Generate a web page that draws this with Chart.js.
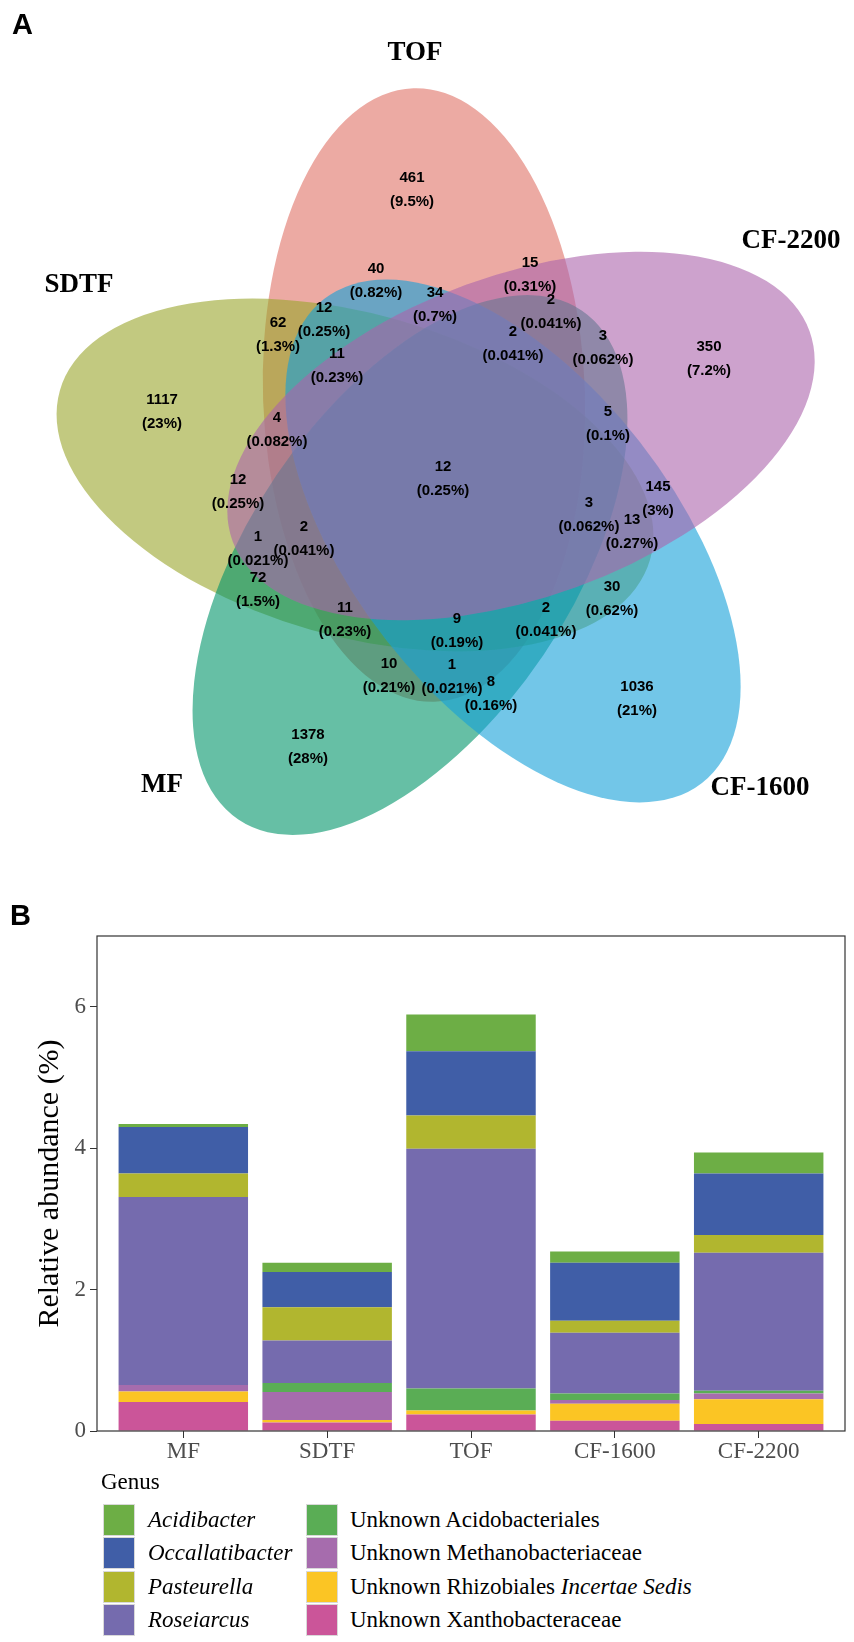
<!DOCTYPE html>
<html>
<head>
<meta charset="utf-8">
<script src="https://cdn.jsdelivr.net/npm/chart.js@4.4.1/dist/chart.umd.min.js"></script>
<style>
  body { margin: 0; background: #fff; width: 854px; height: 1642px; position: relative; overflow: hidden; }
  .tag { position: absolute; font: bold 29px "Liberation Sans", Arial, sans-serif; color: #000; }
  #vennChart { position: absolute; left: 0; top: 0; }
  #barChart { position: absolute; left: 0; top: 880px; }
  .leg { position: absolute; font-family: "Liberation Serif", "Times New Roman", serif; font-size: 23px; color: #000; white-space: nowrap; line-height: 31px; }
  .key { position: absolute; width: 30px; height: 30px; border: 1px solid #d9d9d9; }
</style>
</head>
<body>
<canvas id="vennChart" width="854" height="870"></canvas>
<canvas id="barChart" width="854" height="600"></canvas>
<div class="tag" style="left:12px; top:8px;">A</div>
<div class="tag" style="left:10px; top:899px;">B</div>
<div id="legend"></div>
<script>
// ---- panel A: five-set Venn ----
const setNames = ['TOF', 'SDTF', 'MF', 'CF-1600', 'CF-2200'];
const setColors = ['#DF7166', '#99A52B', '#009469', '#14A0D9', '#AC64AC'];
const regionCounts = [461, 40, 12, 62, 11, 34, 15, 2, 2, 3, 350, 1117, 4, 12, 2, 1,
  72, 11, 10, 1378, 5, 12, 145, 3, 13, 30, 2, 9, 1, 8, 1036];
const regionPercents = ['9.5%', '0.82%', '0.25%', '1.3%', '0.23%', '0.7%', '0.31%', '0.041%',
  '0.041%', '0.062%', '7.2%', '23%', '0.082%', '0.25%', '0.041%', '0.021%', '1.5%', '0.23%',
  '0.21%', '28%', '0.1%', '0.25%', '3%', '0.062%', '0.27%', '0.62%', '0.041%', '0.19%',
  '0.021%', '0.16%', '21%'];

// geometry (pixels of the figure)
const ellipseX = [424, 355, 410, 513, 521];
const ellipseY = [395, 475, 565, 541, 436];
const ellipseAngle = [88, 16, 124, 52, -20];
const ellipseLong = 307, ellipseShort = 161;
const regionX = [412, 376, 324, 278, 337, 435, 530, 551, 513, 603, 709, 162, 277, 238, 304, 258,
  258, 345, 389, 308, 608, 443, 658, 589, 632, 612, 546, 457, 452, 491, 637];
const regionY = [178, 269, 308, 323, 354, 293, 263, 300, 332, 336, 347, 400, 418, 480, 527, 537,
  578, 608, 664, 735, 412, 467, 487, 503, 520, 587, 608, 619, 665, 682, 687];
const setLabelX = [415, 79, 162, 760, 791];
const setLabelY = [53, 285, 785, 788, 241];

const ellipsePlugin = {
  id: 'ellipses',
  beforeDatasetsDraw(chart) {
    const { ctx, scales: { x, y } } = chart;
    ctx.save();
    ctx.globalAlpha = 0.6;
    setNames.forEach((name, i) => {
      const cx = x.getPixelForValue(ellipseX[i]);
      const cy = y.getPixelForValue(ellipseY[i]);
      const rl = Math.abs(x.getPixelForValue(ellipseX[i] + ellipseLong) - cx);
      const rs = Math.abs(x.getPixelForValue(ellipseX[i] + ellipseShort) - cx);
      ctx.beginPath();
      ctx.ellipse(cx, cy, rl, rs, ellipseAngle[i] * Math.PI / 180, 0, Math.PI * 2);
      ctx.fillStyle = setColors[i];
      ctx.fill();
    });
    ctx.restore();
  },
  afterDatasetsDraw(chart) {
    const ctx = chart.ctx;
    const regions = chart.getDatasetMeta(0).data;
    const names = chart.getDatasetMeta(1).data;
    ctx.save();
    ctx.fillStyle = '#000';
    ctx.textAlign = 'center';
    ctx.textBaseline = 'middle';
    ctx.font = 'bold 15px "Liberation Sans", Arial, sans-serif';
    regions.forEach((p, i) => {
      ctx.fillText(String(regionCounts[i]), p.x, p.y);
      ctx.fillText('(' + regionPercents[i] + ')', p.x, p.y + 23.5);
    });
    ctx.font = 'bold 27px "Liberation Serif", "Times New Roman", serif';
    names.forEach((p, i) => ctx.fillText(setNames[i], p.x, p.y));
    ctx.restore();
  }
};

new Chart(document.getElementById('vennChart'), {
  type: 'scatter',
  data: {
    datasets: [
      { data: regionX.map((v, i) => ({ x: v, y: regionY[i] })), pointRadius: 0 },
      { data: setLabelX.map((v, i) => ({ x: v, y: setLabelY[i] })), pointRadius: 0 }
    ]
  },
  options: {
    responsive: false,
    animation: false,
    events: [],
    layout: { padding: 0 },
    plugins: { legend: { display: false }, tooltip: { enabled: false } },
    scales: {
      x: { type: 'linear', min: 0, max: 854, display: false },
      y: { type: 'linear', min: 0, max: 870, reverse: true, display: false }
    }
  },
  plugins: [ellipsePlugin]
});

// ---- panel B: stacked bars ----
const samples = ['MF', 'SDTF', 'TOF', 'CF-1600', 'CF-2200'];
const yTicks = [0, 2, 4, 6];
const genusLabels = ['Acidibacter', 'Occallatibacter', 'Pasteurella', 'Roseiarcus',
  'Unknown Acidobacteriales', 'Unknown Methanobacteriaceae',
  'Unknown Rhizobiales Incertae Sedis', 'Unknown Xanthobacteraceae'];
const genusLegend = ['<i>Acidibacter</i>', '<i>Occallatibacter</i>', '<i>Pasteurella</i>',
  '<i>Roseiarcus</i>', 'Unknown Acidobacteriales', 'Unknown Methanobacteriaceae',
  'Unknown Rhizobiales <i>Incertae Sedis</i>', 'Unknown Xanthobacteraceae'];
const genusColors = ['#6DAE45', '#405EA7', '#B1B62F', '#756BAE', '#5AAD55', '#A66CAD', '#FBC524', '#CB5599'];

const acidibacter = [0.04, 0.13, 0.52, 0.16, 0.30];
const occallatibacter = [0.66, 0.50, 0.91, 0.82, 0.87];
const pasteurella = [0.33, 0.47, 0.47, 0.17, 0.25];
const roseiarcus = [2.66, 0.60, 3.39, 0.86, 1.95];
const unkAcidobacteriales = [0, 0.13, 0.31, 0.09, 0.04];
const unkMethanobacteriaceae = [0.09, 0.395, 0, 0.055, 0.08];
const unkRhizobiales = [0.15, 0.035, 0.055, 0.24, 0.35];
const unkXanthobacteraceae = [0.41, 0.12, 0.235, 0.145, 0.10];
const genusValues = [acidibacter, occallatibacter, pasteurella, roseiarcus,
  unkAcidobacteriales, unkMethanobacteriaceae, unkRhizobiales, unkXanthobacteraceae];

// ggplot stacks the first level on top, so push datasets bottom-first
const barSets = genusLabels.map((g, i) => ({
  label: g,
  data: genusValues[i].map((v, j) => ({ x: j + 1, y: v })),
  backgroundColor: genusColors[i],
  borderWidth: 0,
  barPercentage: 0.9,
  categoryPercentage: 1
})).reverse();

const framePlugin = {
  id: 'frame',
  afterDraw(chart) {
    const { ctx, chartArea: a } = chart;
    ctx.save();
    ctx.strokeStyle = '#333';
    ctx.lineWidth = 1.2;
    ctx.strokeRect(a.left, a.top, a.right - a.left, a.bottom - a.top);
    ctx.restore();
  }
};

const tickFont = { family: '"Liberation Serif", "Times New Roman", serif', size: 23 };

new Chart(document.getElementById('barChart'), {
  type: 'bar',
  data: { datasets: barSets },
  options: {
    responsive: false,
    animation: false,
    events: [],
    layout: { padding: { top: 56, right: 9, left: 0, bottom: 0 } },
    plugins: { legend: { display: false }, tooltip: { enabled: false } },
    scales: {
      x: {
        type: 'linear', stacked: true, min: 0.4, max: 5.6, offset: false,
        afterBuildTicks: s => { s.ticks = samples.map((c, i) => ({ value: i + 1 })); },
        afterFit: s => { s.height = 49; },
        ticks: { callback: v => samples[Math.round(v) - 1], font: tickFont, color: '#4D4D4D', padding: 0, maxRotation: 0, autoSkip: false },
        grid: { drawOnChartArea: false, offset: false, tickLength: 7, color: '#333' },
        border: { display: false }
      },
      y: {
        stacked: true, min: 0, max: 7,
        afterBuildTicks: s => { s.ticks = yTicks.map(v => ({ value: v })); },
        afterFit: s => { s.width = 97; },
        ticks: { font: tickFont, color: '#4D4D4D', padding: 4 },
        grid: { drawOnChartArea: false, tickLength: 7, color: '#333' },
        border: { display: false },
        title: {
          display: true, text: 'Relative abundance (%)', color: '#000',
          font: { family: '"Liberation Serif", "Times New Roman", serif', size: 30 },
          padding: { top: 32 }
        }
      }
    }
  },
  plugins: [framePlugin]
});

// legend (two columns, partly italic labels)
const legend = document.getElementById('legend');
let html = '<div class="leg" style="left:101px; top:1466px;">Genus</div>';
genusLegend.forEach((lab, i) => {
  const col = Math.floor(i / 4), row = i % 4;
  const top = 1504 + row * 33.4;
  const kx = col ? 306 : 103;
  const tx = col ? 350 : 148;
  html += `<div class="key" style="left:${kx}px; top:${top}px; background:${genusColors[i]}"></div>`;
  html += `<div class="leg" style="left:${tx}px; top:${top}px;">${lab}</div>`;
});
legend.innerHTML = html;
</script>
</body>
</html>
